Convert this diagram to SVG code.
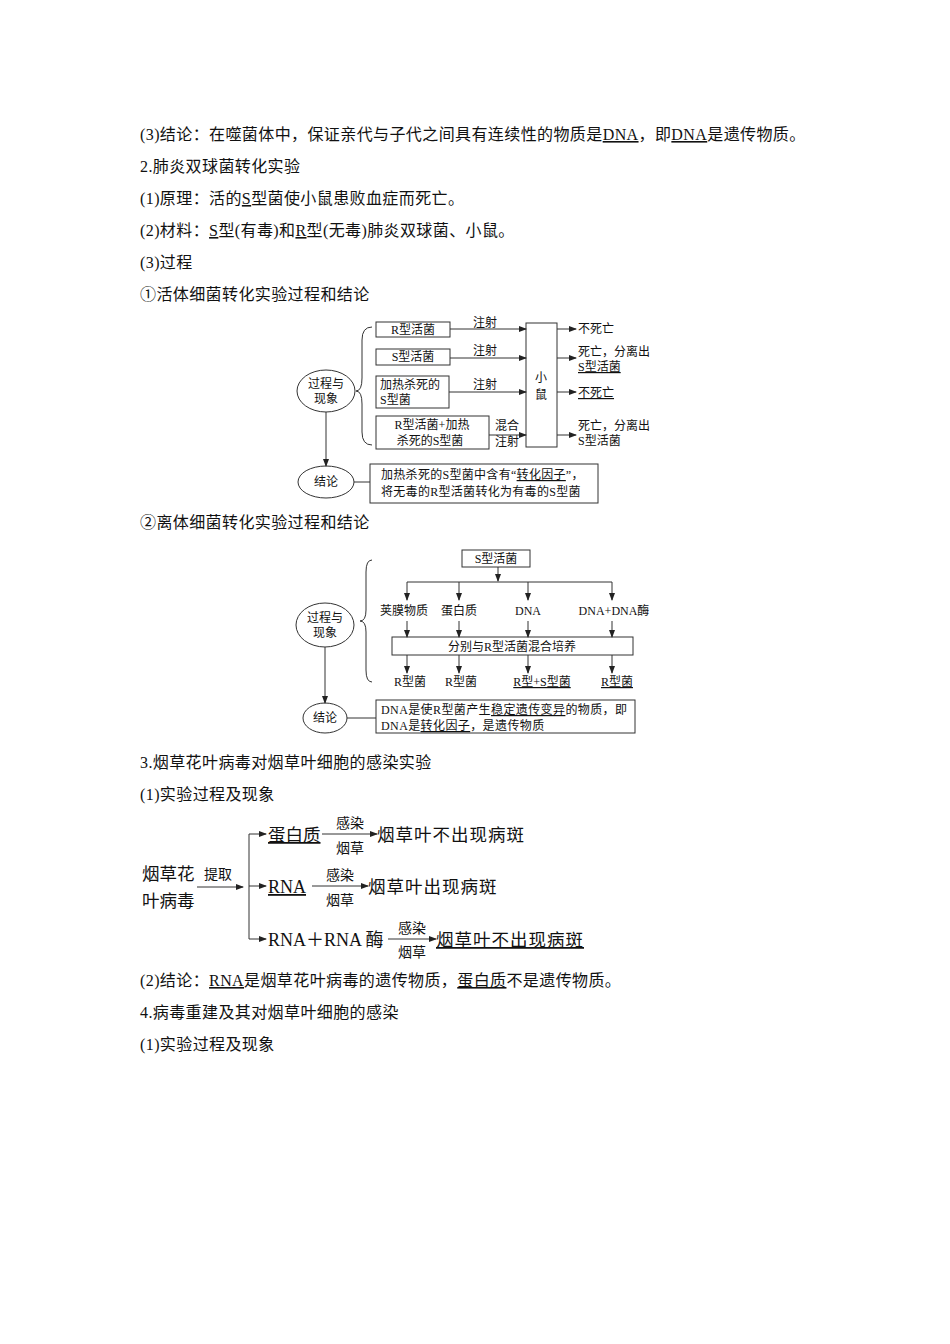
<svg xmlns="http://www.w3.org/2000/svg" width="950" height="1344" viewBox="0 0 950 1344">
<defs>
<marker id="a" markerWidth="8" markerHeight="6" refX="7" refY="3" orient="auto" markerUnits="userSpaceOnUse"><path d="M0,0 L8,3 L0,6 Z" fill="#222"/></marker>
<style>
text{font-family:"Liberation Serif","Noto Sans CJK SC",serif;fill:#111}
.b{font-size:16px;letter-spacing:0.4px}
.s{font-size:12px}
.m{font-size:17.5px}
.l{stroke:#333;stroke-width:1;fill:none}
.u{stroke:#333;stroke-width:1}
.c{text-anchor:middle}
.ul{text-decoration:underline}
</style>
</defs>
<rect width="950" height="1344" fill="#fff"/>
<g id="body">
<text class="b" x="140" y="140">(3)结论：在噬菌体中，保证亲代与子代之间具有连续性的物质是<tspan class="ul">DNA</tspan>，即<tspan class="ul">DNA</tspan>是遗传物质。</text>
<text class="b" x="140" y="172">2.肺炎双球菌转化实验</text>
<text class="b" x="140" y="204">(1)原理：活的<tspan class="ul">S</tspan>型菌使小鼠患败血症而死亡。</text>
<text class="b" x="140" y="236">(2)材料：<tspan class="ul">S</tspan>型(有毒)和<tspan class="ul">R</tspan>型(无毒)肺炎双球菌、小鼠。</text>
<text class="b" x="140" y="268">(3)过程</text>
<text class="b" x="140" y="300">①活体细菌转化实验过程和结论</text>
<text class="b" x="140" y="528">②离体细菌转化实验过程和结论</text>
<text class="b" x="140" y="768">3.烟草花叶病毒对烟草叶细胞的感染实验</text>
<text class="b" x="140" y="800">(1)实验过程及现象</text>
<text class="b" x="140" y="986">(2)结论：<tspan class="ul">RNA</tspan>是烟草花叶病毒的遗传物质，<tspan class="ul">蛋白质</tspan>不是遗传物质。</text>
<text class="b" x="140" y="1018">4.病毒重建及其对烟草叶细胞的感染</text>
<text class="b" x="140" y="1050">(1)实验过程及现象</text>
</g>
<g id="d1">
<g id="d1-n1"><ellipse class="l" cx="326" cy="391" rx="29" ry="21"/><text class="s c" x="326" y="388">过程与</text><text class="s c" x="326" y="403">现象</text></g>
<path class="l" d="M372,327 Q362,327 362,340 L362,378 Q362,391 356,391 Q362,391 362,404 L362,432 Q362,445 372,445"/>
<g id="d1-n2"><rect class="l" x="376" y="322" width="74" height="15"/><text class="s c" x="413" y="334">R型活菌</text></g>
<g id="d1-n3"><rect class="l" x="376" y="349" width="74" height="16"/><text class="s c" x="413" y="361">S型活菌</text></g>
<g id="d1-n4"><rect class="l" x="376" y="376" width="73" height="32"/><text class="s" x="380" y="389">加热杀死的</text><text class="s" x="380" y="404">S型菌</text></g>
<g id="d1-n5"><rect class="l" x="376" y="416" width="113" height="33"/><text class="s c" x="432" y="429">R型活菌+加热</text><text class="s c" x="430" y="445">杀死的S型菌</text></g>
<g id="d1-n6"><rect class="l" x="526" y="323" width="31" height="124"/><text class="s c" x="541" y="382">小</text><text class="s c" x="541" y="399">鼠</text></g>
<g id="d1-n7"><ellipse class="l" cx="326" cy="482" rx="28" ry="16"/><text class="s c" x="326" y="486">结论</text></g>
<g id="d1-n8"><rect class="l" x="370" y="464" width="228" height="39"/><text class="s" x="381" y="479" style="letter-spacing:0.3px">加热杀死的S型菌中含有“<tspan class="ul">转化因子</tspan>”，</text><text class="s" x="381" y="496" style="letter-spacing:0.3px">将无毒的R型活菌转化为有毒的S型菌</text></g>
<g class="s">
<text x="578" y="333">不死亡</text>
<text x="578" y="356">死亡，分离出</text><text x="578" y="371" class="ul">S型活菌</text>
<text x="578" y="397" class="ul">不死亡</text>
<text x="578" y="430">死亡，分离出</text><text x="578" y="445">S型活菌</text>
<text class="c" x="485" y="327">注射</text><text class="c" x="485" y="355">注射</text><text class="c" x="485" y="389">注射</text>
<text class="c" x="507" y="430">混合</text><text class="c" x="507" y="446">注射</text>
</g>
</g>
<g id="c1">
<line class="l" x1="450" y1="329" x2="526" y2="329" marker-end="url(#a)"/>
<line class="l" x1="450" y1="358" x2="526" y2="358" marker-end="url(#a)"/>
<line class="l" x1="449" y1="392" x2="526" y2="392" marker-end="url(#a)"/>
<line class="l" x1="489" y1="435" x2="526" y2="435" marker-end="url(#a)"/>
<line class="l" x1="557" y1="329" x2="576" y2="329" marker-end="url(#a)"/>
<line class="l" x1="557" y1="358" x2="576" y2="358" marker-end="url(#a)"/>
<line class="l" x1="557" y1="392" x2="576" y2="392" marker-end="url(#a)"/>
<line class="l" x1="557" y1="435" x2="576" y2="435" marker-end="url(#a)"/>
<line class="l" x1="326" y1="412" x2="326" y2="466" marker-end="url(#a)"/>
<line class="l" x1="354" y1="482" x2="370" y2="482"/>
</g>
<g id="d2">
<g id="d2-n1"><rect class="l" x="462" y="550" width="68" height="17"/><text class="s c" x="496" y="563">S型活菌</text></g>
<g id="d2-n2"><ellipse class="l" cx="325" cy="625" rx="29" ry="22"/><text class="s c" x="325" y="622">过程与</text><text class="s c" x="325" y="637">现象</text></g>
<path class="l" d="M372,560 Q366,560 366,572 L366,610 Q366,621 360,621 Q366,621 366,632 L366,670 Q366,682 372,682"/>
<g class="s c">
<text x="404" y="615">荚膜物质</text><text x="459" y="615">蛋白质</text><text x="528" y="615">DNA</text><text x="614" y="615">DNA+DNA酶</text>
<text x="410" y="686">R型菌</text><text x="461" y="686">R型菌</text><text x="542" y="686" class="ul">R型+S型菌</text><text x="617" y="686" class="ul">R型菌</text>
</g>
<g id="d2-n3"><rect class="l" x="392" y="637" width="241" height="18"/><text class="s c" x="512" y="651">分别与R型活菌混合培养</text></g>
<g id="d2-n4"><ellipse class="l" cx="325" cy="718" rx="22" ry="15"/><text class="s c" x="325" y="722">结论</text></g>
<g id="d2-n5"><rect class="l" x="376" y="700" width="259" height="33"/><text class="s" x="381" y="714" style="letter-spacing:0.4px">DNA是使R型菌产生<tspan class="ul">稳定遗传变异</tspan>的物质，即</text><text class="s" x="381" y="730" style="letter-spacing:0.4px">DNA是<tspan class="ul">转化因子</tspan>，是遗传物质</text></g>
</g>
<g id="c2">
<line class="l" x1="498" y1="567" x2="498" y2="581" marker-end="url(#a)"/>
<line class="l" x1="407" y1="582" x2="612" y2="582"/>
<line class="l" x1="407" y1="582" x2="407" y2="600" marker-end="url(#a)"/>
<line class="l" x1="459" y1="582" x2="459" y2="600" marker-end="url(#a)"/>
<line class="l" x1="528" y1="582" x2="528" y2="600" marker-end="url(#a)"/>
<line class="l" x1="612" y1="582" x2="612" y2="600" marker-end="url(#a)"/>
<line class="l" x1="407" y1="621" x2="407" y2="637" marker-end="url(#a)"/>
<line class="l" x1="459" y1="621" x2="459" y2="637" marker-end="url(#a)"/>
<line class="l" x1="528" y1="621" x2="528" y2="637" marker-end="url(#a)"/>
<line class="l" x1="612" y1="621" x2="612" y2="637" marker-end="url(#a)"/>
<line class="l" x1="407" y1="655" x2="407" y2="673" marker-end="url(#a)"/>
<line class="l" x1="459" y1="655" x2="459" y2="673" marker-end="url(#a)"/>
<line class="l" x1="528" y1="655" x2="528" y2="673" marker-end="url(#a)"/>
<line class="l" x1="612" y1="655" x2="612" y2="673" marker-end="url(#a)"/>
<line class="l" x1="325" y1="647" x2="325" y2="703" marker-end="url(#a)"/>
<line class="l" x1="347" y1="718" x2="376" y2="718"/>
</g>
<g id="d3">
<g id="d3-n1"><text class="m" x="142" y="880">烟草花</text><text class="m" x="142" y="907">叶病毒</text></g>
<text x="204" y="879" style="font-size:14px">提取</text>
<g id="d3-n2"><text class="m ul" x="268" y="841">蛋白质</text></g>
<g id="d3-n3"><text class="m ul" x="268" y="893" style="font-size:18px">RNA</text></g>
<g id="d3-n4"><text class="m" x="268" y="946" style="font-size:18px">RNA＋RNA 酶</text></g>
<g id="d3-n5"><text class="m" x="377" y="841" style="letter-spacing:1px">烟草叶不出现病斑</text></g>
<g id="d3-n6"><text class="m" x="368" y="893" style="letter-spacing:1px">烟草叶出现病斑</text></g>
<g id="d3-n7"><text class="m ul" x="436" y="946" style="letter-spacing:1px">烟草叶不出现病斑</text></g>
<g style="font-size:14px" class="c">
<text x="350" y="828">感染</text><text x="350" y="853">烟草</text>
<text x="340" y="880">感染</text><text x="340" y="905">烟草</text>
<text x="412" y="933">感染</text><text x="412" y="957">烟草</text>
</g>
</g>
<g id="c3">
<line class="l" x1="197" y1="887" x2="243" y2="887" marker-end="url(#a)"/>
<line class="l" x1="249" y1="834" x2="249" y2="939"/>
<line class="l" x1="249" y1="834" x2="266" y2="834" marker-end="url(#a)"/>
<line class="l" x1="249" y1="886" x2="266" y2="886" marker-end="url(#a)"/>
<line class="l" x1="249" y1="939" x2="266" y2="939" marker-end="url(#a)"/>
<line class="l" x1="322" y1="834" x2="377" y2="834" marker-end="url(#a)"/>
<line class="l" x1="312" y1="886" x2="368" y2="886" marker-end="url(#a)"/>
<line class="l" x1="388" y1="939" x2="436" y2="939" marker-end="url(#a)"/>
</g>
</svg>
